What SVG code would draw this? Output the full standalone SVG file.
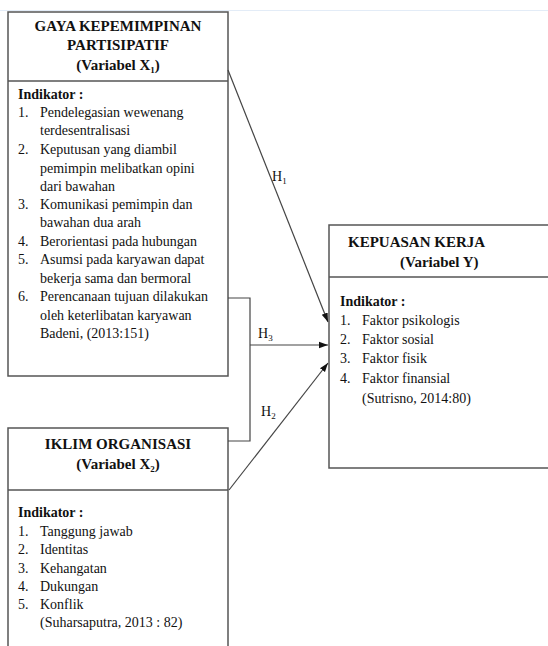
<svg xmlns="http://www.w3.org/2000/svg" width="548" height="646" viewBox="0 0 548 646">
<style>
.box{fill:#fff;stroke:#555;stroke-width:1.5}
.div{stroke:#555;stroke-width:1.5}
.t{font-family:"Liberation Serif","Times New Roman",serif;font-size:14px;fill:#111}
.b{font-weight:bold}
.h{font-size:15px}
.c{text-anchor:middle}
.con{fill:none;stroke:#444;stroke-width:1.2}
</style>
<defs>
<marker id="ah" viewBox="0 0 10 10" refX="10" refY="5" markerWidth="9" markerHeight="9" markerUnits="userSpaceOnUse" orient="auto">
<path d="M0,1.5 L10,5 L0,8.5 Z" fill="#111"/>
</marker>
</defs>
<rect width="548" height="646" fill="#fff"/>
<line x1="0" y1="10.5" x2="548" y2="10.5" stroke="#e3ecf7" stroke-width="1"/>

<g id="x1">
<rect class="box" x="8" y="12" width="220" height="364"/>
<line class="div" x1="8" y1="81" x2="228" y2="81"/>
<text class="t b h c" x="118" y="31">GAYA KEPEMIMPINAN</text>
<text class="t b h c" x="118" y="50">PARTISIPATIF</text>
<text class="t b h c" x="118" y="70">(Variabel X<tspan font-size="9" dy="3">1</tspan><tspan dy="-3">)</tspan></text>
<text class="t b" x="18" y="99">Indikator :</text>
<text class="t" x="18" y="117">1.</text><text class="t" x="40" y="117">Pendelegasian wewenang</text>
<text class="t" x="40" y="135">terdesentralisasi</text>
<text class="t" x="18" y="154">2.</text><text class="t" x="40" y="154">Keputusan yang diambil</text>
<text class="t" x="40" y="173">pemimpin melibatkan opini</text>
<text class="t" x="40" y="191">dari bawahan</text>
<text class="t" x="18" y="209">3.</text><text class="t" x="40" y="209">Komunikasi pemimpin dan</text>
<text class="t" x="40" y="227">bawahan dua arah</text>
<text class="t" x="18" y="246">4.</text><text class="t" x="40" y="246">Berorientasi pada hubungan</text>
<text class="t" x="18" y="264">5.</text><text class="t" x="40" y="264">Asumsi pada karyawan dapat</text>
<text class="t" x="40" y="283">bekerja sama dan bermoral</text>
<text class="t" x="18" y="301">6.</text><text class="t" x="40" y="301">Perencanaan tujuan dilakukan</text>
<text class="t" x="40" y="320">oleh keterlibatan karyawan</text>
<text class="t" x="40" y="338">Badeni, (2013:151)</text>
</g>

<g id="x2">
<rect class="box" x="8" y="428" width="220" height="230"/>
<line class="div" x1="8" y1="490" x2="228" y2="490"/>
<text class="t b h c" x="118" y="449">IKLIM ORGANISASI</text>
<text class="t b h c" x="118" y="469">(Variabel X<tspan font-size="9" dy="3">2</tspan><tspan dy="-3">)</tspan></text>
<text class="t b" x="18" y="517">Indikator :</text>
<text class="t" x="18" y="536">1.</text><text class="t" x="40" y="536">Tanggung jawab</text>
<text class="t" x="18" y="554">2.</text><text class="t" x="40" y="554">Identitas</text>
<text class="t" x="18" y="573">3.</text><text class="t" x="40" y="573">Kehangatan</text>
<text class="t" x="18" y="591">4.</text><text class="t" x="40" y="591">Dukungan</text>
<text class="t" x="18" y="609">5.</text><text class="t" x="40" y="609">Konflik</text>
<text class="t" x="40" y="627">(Suharsaputra, 2013 : 82)</text>
</g>

<g id="y">
<rect class="box" x="329" y="225" width="230" height="243"/>
<line class="div" x1="329" y1="277" x2="559" y2="277"/>
<text class="t b h" x="348" y="247">KEPUASAN KERJA</text>
<text class="t b h" x="400" y="267">(Variabel Y)</text>
<text class="t b" x="340" y="306">Indikator :</text>
<text class="t" x="340" y="325">1.</text><text class="t" x="362" y="325">Faktor psikologis</text>
<text class="t" x="340" y="344">2.</text><text class="t" x="362" y="344">Faktor sosial</text>
<text class="t" x="340" y="363">3.</text><text class="t" x="362" y="363">Faktor fisik</text>
<text class="t" x="340" y="383">4.</text><text class="t" x="362" y="383">Faktor finansial</text>
<text class="t" x="362" y="403">(Sutrisno, 2014:80)</text>
</g>

<g id="connectors">
<line class="con" x1="228" y1="70" x2="328" y2="322" marker-end="url(#ah)"/>
<polyline class="con" points="228,298 250,298 250,441 228,441"/>
<line class="con" x1="250" y1="345" x2="328" y2="345" marker-end="url(#ah)"/>
<line class="con" x1="229" y1="490" x2="328" y2="363" marker-end="url(#ah)"/>
<text class="t" x="272" y="181">H<tspan font-size="9" dy="3">1</tspan></text>
<text class="t" x="258" y="338">H<tspan font-size="9" dy="3">3</tspan></text>
<text class="t" x="261" y="416">H<tspan font-size="9" dy="3">2</tspan></text>
</g>
</svg>
